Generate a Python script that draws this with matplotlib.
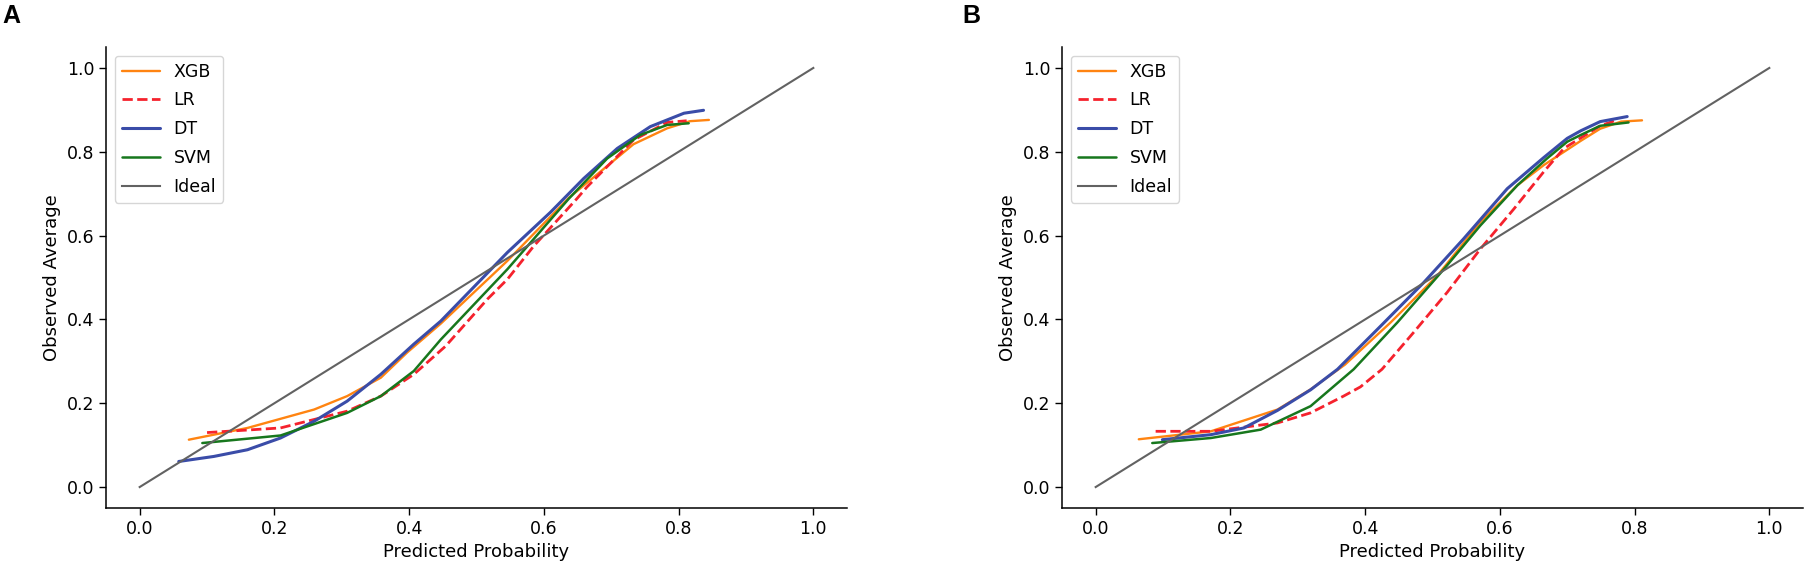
import matplotlib
matplotlib.use("Agg")
import matplotlib.pyplot as plt

# ---------------- data ----------------
models = ["XGB", "LR", "DT", "SVM"]
panel_labels = ["A", "B"]

# Panel A
xgb_a_x = [0.073, 0.160, 0.259, 0.308, 0.358, 0.397, 0.447, 0.546, 0.637, 0.733, 0.783, 0.817, 0.845]
xgb_a_y = [0.113, 0.141, 0.185, 0.217, 0.261, 0.321, 0.390, 0.540, 0.690, 0.818, 0.856, 0.873, 0.876]
lr_a_x = [0.100, 0.209, 0.308, 0.358, 0.407, 0.454, 0.516, 0.546, 0.585, 0.649, 0.664, 0.733, 0.783, 0.812]
lr_a_y = [0.130, 0.141, 0.181, 0.217, 0.269, 0.336, 0.448, 0.496, 0.575, 0.688, 0.716, 0.828, 0.870, 0.874]
dt_a_x = [0.058, 0.110, 0.160, 0.209, 0.259, 0.308, 0.358, 0.407, 0.447, 0.546, 0.610, 0.659, 0.709, 0.758, 0.808, 0.837]
dt_a_y = [0.061, 0.073, 0.089, 0.117, 0.157, 0.205, 0.269, 0.341, 0.396, 0.560, 0.656, 0.736, 0.808, 0.860, 0.892, 0.899]
svm_a_x = [0.093, 0.209, 0.308, 0.358, 0.407, 0.447, 0.546, 0.637, 0.694, 0.743, 0.783, 0.815]
svm_a_y = [0.105, 0.123, 0.177, 0.217, 0.277, 0.352, 0.520, 0.688, 0.784, 0.840, 0.864, 0.868]

# Panel B
xgb_b_x = [0.064, 0.171, 0.270, 0.319, 0.370, 0.438, 0.507, 0.571, 0.626, 0.665, 0.720, 0.749, 0.780, 0.811]
xgb_b_y = [0.114, 0.133, 0.185, 0.233, 0.292, 0.393, 0.504, 0.632, 0.720, 0.768, 0.826, 0.855, 0.872, 0.875]
lr_b_x = [0.089, 0.171, 0.270, 0.319, 0.368, 0.393, 0.425, 0.472, 0.522, 0.571, 0.621, 0.665, 0.695, 0.749, 0.774]
lr_b_y = [0.133, 0.133, 0.153, 0.177, 0.217, 0.239, 0.281, 0.369, 0.465, 0.568, 0.664, 0.752, 0.808, 0.862, 0.876]
dt_b_x = [0.099, 0.171, 0.220, 0.270, 0.319, 0.359, 0.423, 0.487, 0.546, 0.611, 0.665, 0.700, 0.720, 0.749, 0.789]
dt_b_y = [0.113, 0.125, 0.141, 0.183, 0.232, 0.281, 0.384, 0.488, 0.592, 0.712, 0.786, 0.832, 0.850, 0.872, 0.884]
svm_b_x = [0.084, 0.171, 0.245, 0.319, 0.383, 0.448, 0.517, 0.571, 0.626, 0.670, 0.700, 0.720, 0.749, 0.791]
svm_b_y = [0.105, 0.117, 0.137, 0.193, 0.281, 0.393, 0.520, 0.624, 0.720, 0.784, 0.824, 0.840, 0.862, 0.870]

ideal_x = [0.0, 1.0]
ideal_y = [0.0, 1.0]

x_ticks = [0.0, 0.2, 0.4, 0.6, 0.8, 1.0]
y_ticks = [0.0, 0.2, 0.4, 0.6, 0.8, 1.0]

panels = [
    {"XGB": (xgb_a_x, xgb_a_y), "LR": (lr_a_x, lr_a_y), "DT": (dt_a_x, dt_a_y), "SVM": (svm_a_x, svm_a_y)},
    {"XGB": (xgb_b_x, xgb_b_y), "LR": (lr_b_x, lr_b_y), "DT": (dt_b_x, dt_b_y), "SVM": (svm_b_x, svm_b_y)},
]

styles = {
    "XGB": dict(color="#ff8411", lw=1.7, ls="-"),
    "LR": dict(color="#f5222d", lw=2.0, ls="--"),
    "DT": dict(color="#3a4ca8", lw=2.2, ls="-"),
    "SVM": dict(color="#17771d", lw=1.8, ls="-"),
}

# ---------------- figure ----------------
fig = plt.figure(figsize=(18.05, 5.69), dpi=100)
lefts = [106 / 1805, 1062 / 1805]
letter_x = [2 / 1805, 962 / 1805]
for i, data in enumerate(panels):
    ax = fig.add_axes([lefts[i], 61 / 569, 741 / 1805, 461 / 569])
    for m in models:
        xs, ys = data[m]
        ax.plot(xs, ys, label=m, solid_capstyle="round", **styles[m])
    ax.plot(ideal_x, ideal_y, color="#626262", lw=1.5, label="Ideal")
    ax.set_xlim(-0.05, 1.05)
    ax.set_ylim(-0.05, 1.05)
    ax.set_xticks(x_ticks)
    ax.set_yticks(y_ticks)
    ax.set_xticklabels([f"{t:.1f}" for t in x_ticks])
    ax.set_yticklabels([f"{t:.1f}" for t in y_ticks])
    ax.tick_params(labelsize=12.5, length=5, width=1.0)
    for s in ["top", "right"]:
        ax.spines[s].set_visible(False)
    for s in ["left", "bottom"]:
        ax.spines[s].set_linewidth(1.1)
    ax.set_xlabel("Predicted Probability", fontsize=13)
    ax.set_ylabel("Observed Average", fontsize=13)
    ax.legend(loc="upper left", fontsize=12.5, handlelength=2.2, labelspacing=0.62)
    fig.text(letter_x[i], 1 - 16 / 569, panel_labels[i], fontsize=18, fontweight="bold",
             family=["Liberation Sans", "DejaVu Sans"], va="center", ha="left")

fig.savefig("out.png", dpi=100)
